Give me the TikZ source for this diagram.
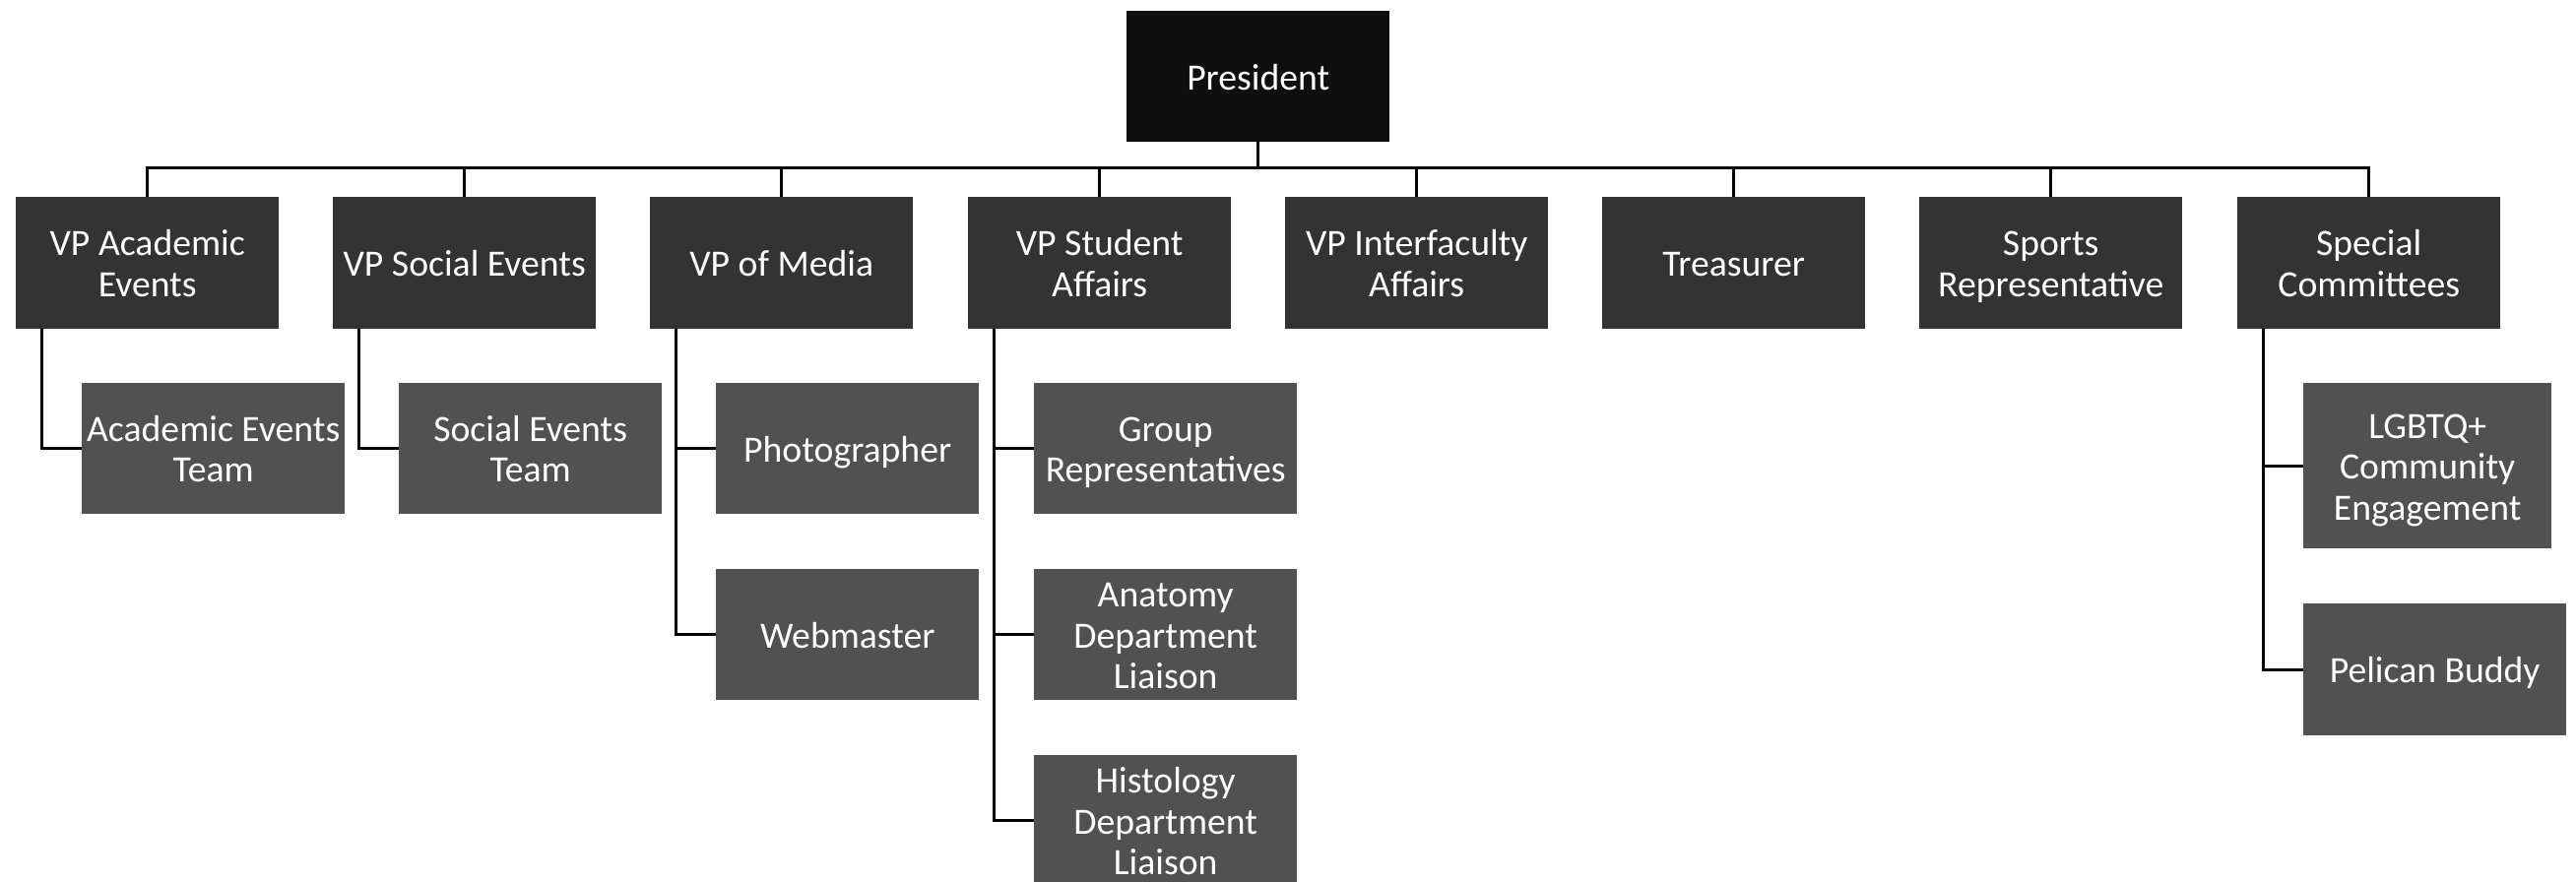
\documentclass[tikz,border=0pt]{standalone}
\usepackage{fontspec}
\setmainfont{Carlito}
\definecolor{cpres}{HTML}{0F0F0F}
\definecolor{ctop}{HTML}{333333}
\definecolor{csub}{HTML}{515151}
\newcommand\topstrut{\rule{0pt}{36pt}}
\tikzset{
  orgbox/.style={anchor=north west, minimum width=267pt, minimum height=133pt, inner sep=0pt,
    text=white, align=center, font=\fontsize{37.7}{41.5}\selectfont,
    execute at end node={\rule[-9pt]{0pt}{9pt}}},
  presbox/.style={orgbox, fill=cpres, minimum height=133pt},
  topbox/.style={orgbox, fill=ctop, minimum height=134pt},
  subbox/.style={orgbox, fill=csub},
  conn/.style={line width=3pt, black, line join=miter}
}
\begin{document}
\begin{tikzpicture}[x=1pt,y=-1pt]
\useasboundingbox (0,0) rectangle (2616,896);
\clip (0,0) rectangle (2616,896);

\node[presbox] (pres) at (1144,11) {\topstrut President};

\node[topbox] (t1) at (16,200) {\topstrut VP Academic\\Events};
\node[topbox] (t2) at (338,200) {\topstrut VP Social Events};
\node[topbox] (t3) at (660,200) {\topstrut VP of Media};
\node[topbox] (t4) at (983,200) {\topstrut VP Student\\Affairs};
\node[topbox] (t5) at (1305,200) {\topstrut VP Interfaculty\\Affairs};
\node[topbox] (t6) at (1627,200) {\topstrut Treasurer};
\node[topbox] (t7) at (1949,200) {\topstrut Sports\\Representative};
\node[topbox] (t8) at (2272,200) {\topstrut Special\\Committees};

\node[subbox] (a1) at (83,389) {\topstrut Academic Events\\Team};
\node[subbox] (s1) at (405,389) {\topstrut Social Events\\Team};
\node[subbox] (m1) at (727,389) {\topstrut Photographer};
\node[subbox] (m2) at (727,578) {\topstrut Webmaster};
\node[subbox] (u1) at (1050,389) {\topstrut Group\\Representatives};
\node[subbox] (u2) at (1050,578) {\topstrut Anatomy\\Department\\Liaison};
\node[subbox] (u3) at (1050,767) {\topstrut Histology\\Department\\Liaison};
\node[subbox, minimum width=252pt, minimum height=168pt] (c1) at (2339,389) {\topstrut LGBTQ+\\Community\\Engagement};
\node[subbox, minimum height=134pt] (c2) at (2339,613) {\topstrut Pelican Buddy};

\coordinate (bar) at (0,171);

\draw[conn] (pres.south) -- (pres.south |- bar);
\draw[conn] (t1.north) -- (t1.north |- bar) -- (t8.north |- bar) -- (t8.north);
\foreach \n in {t2,t3,t4,t5,t6,t7}{
  \draw[conn] (\n.north) -- (\n.north |- bar);
}

\draw[conn] ([xshift=26pt]t1.south west) |- (a1.west);
\draw[conn] ([xshift=26pt]t2.south west) |- (s1.west);
\draw[conn] ([xshift=26pt]t3.south west) |- (m2.west);
\draw[conn] ([xshift=26pt]t3.south west |- m1.west) -- (m1.west);
\draw[conn] ([xshift=26pt]t4.south west) |- (u3.west);
\draw[conn] ([xshift=26pt]t4.south west |- u1.west) -- (u1.west);
\draw[conn] ([xshift=26pt]t4.south west |- u2.west) -- (u2.west);
\draw[conn] ([xshift=26pt]t8.south west) |- (c2.west);
\draw[conn] ([xshift=26pt]t8.south west |- c1.west) -- (c1.west);
\end{tikzpicture}
\end{document}
